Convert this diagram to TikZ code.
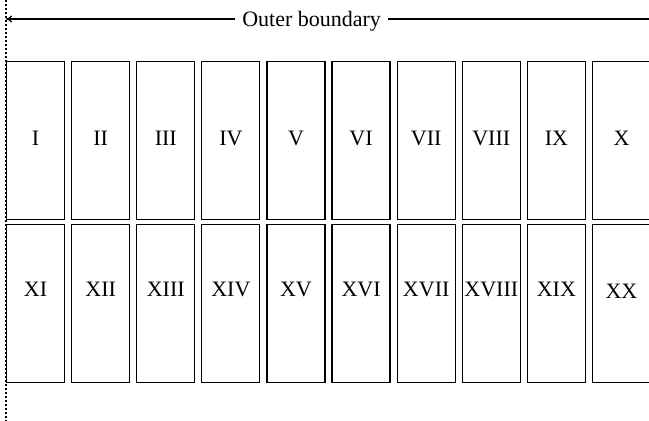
\documentclass[tikz,border=0pt]{standalone}
\usepackage{fontspec}
\setmainfont{Liberation Serif}
\usetikzlibrary{matrix,arrows.meta}

\begin{document}
\begin{tikzpicture}[
    x=1pt, y=1pt,
    >={To[length=3pt,width=3.5pt]},
    font=\fontsize{11}{13}\selectfont,
    cell/.style={draw, line width=0.6pt, minimum width=29pt, minimum height=79pt, inner sep=0pt, outer sep=0pt, anchor=center},
    guide/.style={line width=0.6pt},
    boundary/.style={line width=0.6pt, dash pattern=on 1pt off 1pt},
]
\useasboundingbox (0,0) rectangle (324.5,-210.5);

% ============ DOTTED EDGE ============
\coordinate (edgetop) at (3,0);
\coordinate (edgebot) at (3,-210.5);
\draw[boundary] (edgetop) -- (edgebot);

% ============ OUTER BOUNDARY LABEL ============
\node[text height=10pt, text depth=2pt] (title) at (155.8,-9.5) {Outer boundary};
\coordinate (titleleft) at (3,-9.5);
\coordinate (titleright) at (324.5,-9.5);
\draw[guide,->] (title.west) -- (titleleft);
\draw[guide] (title.east) -- (titleright);

% ============ BOXES ============
\matrix[matrix of nodes, nodes={cell}, column sep=2.95pt, row sep=2pt,
        inner sep=0pt, outer sep=0pt, anchor=north west,
        row 1/.style={nodes={text depth=2pt}},
        row 2/.style={nodes={text depth=14pt}}] (boxes) at (3,-30.5) {
I & II & III & IV & V & VI & VII & VIII & IX & X \\
XI & XII & XIII & XIV & XV & XVI & XVII & XVIII & XIX & |[text depth=12pt]| XX \\
};

\end{tikzpicture}
\end{document}
